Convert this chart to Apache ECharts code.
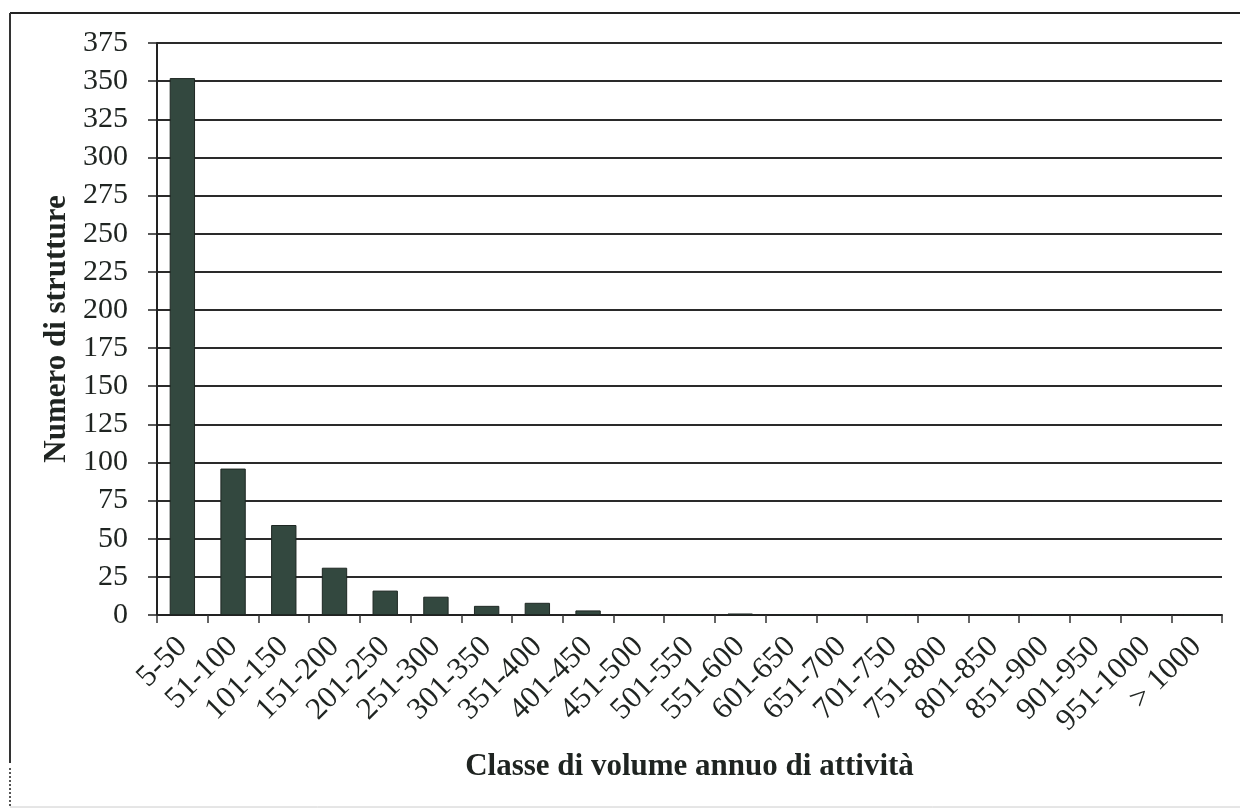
<!DOCTYPE html>
<html>
<head>
<meta charset="utf-8">
<script src="https://cdn.jsdelivr.net/npm/echarts@6/dist/echarts.min.js"></script>
<style>
  html, body { margin: 0; padding: 0; background: #fff; }
  #chart { width: 1240px; height: 810px; }
</style>
</head>
<body>
<div id="chart"></div>
<script>
// classi di volume annuo
const categories = ['5-50', '51-100', '101-150', '151-200', '201-250', '251-300', '301-350',
  '351-400', '401-450', '451-500', '501-550', '551-600', '601-650', '651-700', '701-750',
  '751-800', '801-850', '851-900', '901-950', '951-1000', '> 1000'];
// numero di strutture per classe
const strutture = [352, 96, 59, 31, 16, 12, 6, 8, 3, 0, 0, 1, 0, 0, 0, 0, 0, 0, 0, 0, 0];
const yTicks = { min: 0, max: 375, step: 25 };

const serif = 'Liberation Serif';
const ink = '#1f2421';

const chart = echarts.init(document.getElementById('chart'), null, { renderer: 'canvas' });
chart.setOption({
  animation: false,
  backgroundColor: '#fff',
  grid: { left: 157, right: 18, top: 43, bottom: 195, containLabel: false },
  graphic: [
    // cornice della scansione
    { type: 'line', shape: { x1: 10, y1: 13, x2: 1240, y2: 13 }, style: { stroke: '#222', lineWidth: 2 } },
    { type: 'line', shape: { x1: 10, y1: 13, x2: 10, y2: 763 }, style: { stroke: '#333', lineWidth: 2 } },
    { type: 'line', shape: { x1: 10, y1: 768, x2: 10, y2: 808 }, style: { stroke: '#555', lineWidth: 2, lineDash: [2, 2] } },
    { type: 'line', shape: { x1: 10, y1: 807, x2: 1240, y2: 807 }, style: { stroke: '#ccc', lineWidth: 1 } }
  ],
  xAxis: {
    type: 'category',
    data: categories,
    name: 'Classe di volume annuo di attività',
    nameLocation: 'middle',
    nameGap: 136,
    nameTextStyle: { fontFamily: serif, fontWeight: 'bold', fontSize: 31, color: ink },
    axisLine: { lineStyle: { color: '#222', width: 2 } },
    axisTick: { show: true, length: 8, lineStyle: { color: '#333', width: 1.5 } },
    axisLabel: {
      interval: 0, rotate: 45, margin: 27,
      fontFamily: serif, fontSize: 31, color: ink
    },
    splitLine: { show: false }
  },
  yAxis: {
    type: 'value',
    min: yTicks.min,
    max: yTicks.max,
    interval: yTicks.step,
    name: 'Numero di strutture',
    nameLocation: 'middle',
    nameGap: 62,
    nameRotate: 90,
    nameTextStyle: { fontFamily: serif, fontWeight: 'bold', fontSize: 31, color: ink },
    axisLine: { show: true, lineStyle: { color: '#222', width: 2 } },
    axisTick: { show: true, inside: false, length: 9, lineStyle: { color: '#222', width: 1.5 } },
    axisLabel: { margin: 29, fontFamily: serif, fontSize: 30, color: ink },
    splitLine: { show: true, lineStyle: { color: '#2a2a2a', width: 2 } }
  },
  series: [{
    name: 'Numero di strutture',
    type: 'bar',
    data: strutture,
    barCategoryGap: '50%',
    itemStyle: { color: '#33483f', borderColor: '#1e2723', borderWidth: 1 }
  }]
});
</script>
</body>
</html>
